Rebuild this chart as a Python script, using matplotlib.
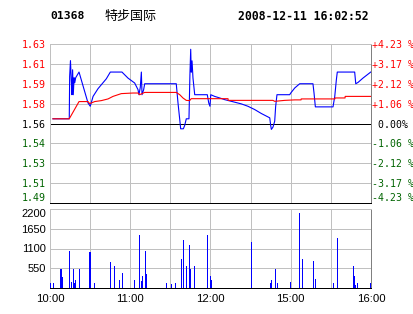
import matplotlib
matplotlib.use("Agg")
import matplotlib.pyplot as plt

# ── data (minutes since 10:00, lunch break removed) ──
BASE = 1.56          # previous close
SPAN = 0.0423        # +/- 4.23 %

price_min = [2.2, 14.4, 14.7, 15.3, 15.9, 16.4, 16.9, 17.4, 18.0, 18.5, 19.2, 21.7,
             28.4, 30.1, 32.2, 35.9, 42.1, 45.1, 53.8, 58.3, 63.3, 65.8, 66.5, 67.5,
             68.3, 68.8, 70.0, 70.8, 94.4, 95.7, 97.0, 97.7, 99.7, 100.7, 101.9, 103.9,
             104.6, 105.2, 105.6, 106.2, 106.9, 108.2, 117.6, 118.7, 119.6, 120.2, 123.1,
             126.9, 130.6, 135.6, 143.0, 148.0, 153.0, 158.0, 164.3, 165.0, 165.5, 166.7,
             168.0, 168.7, 169.7, 179.2, 180.0, 183.0, 186.7, 196.6, 197.4, 198.4, 211.6,
             212.9, 214.1, 214.8, 227.8, 228.6, 230.3, 234.0, 239.8]
price_val = [1.5639, 1.5639, 1.5990, 1.6122, 1.5960, 1.5839, 1.6046, 1.5839, 1.5980, 1.5938, 1.5980, 1.6027,
             1.5771, 1.5743, 1.5825, 1.5889, 1.5971, 1.6027, 1.6027, 1.5977, 1.5936, 1.5881, 1.5839, 1.5900,
             1.6027, 1.5839, 1.5880, 1.5930, 1.5930, 1.5771, 1.5633, 1.5556, 1.5556, 1.5584, 1.5639, 1.5639,
             1.6000, 1.6216, 1.6026, 1.6120, 1.5977, 1.5839, 1.5839, 1.5770, 1.5743, 1.5839, 1.5825,
             1.5812, 1.5798, 1.5784, 1.5763, 1.5743, 1.5716, 1.5683, 1.5647, 1.5584, 1.5551, 1.5570,
             1.5619, 1.5740, 1.5839, 1.5839, 1.5853, 1.5895, 1.5930, 1.5930, 1.5853, 1.5738, 1.5738,
             1.5825, 1.5963, 1.6027, 1.6027, 1.5930, 1.5941, 1.5977, 1.6027]

avg_min = [2.2, 14.4, 21.7, 28.4, 29.7, 33.4, 38.4, 43.4, 47.1, 53.3, 62.0, 65.8, 67.0,
           70.8, 94.4, 97.0, 99.4, 101.9, 104.4, 105.6, 133.1, 133.2, 166.7, 168.0,
           175.5, 183.0, 187.7, 187.8, 213.0, 213.1, 220.6, 220.7, 240.0]
avg_val = [1.5639, 1.5639, 1.5782, 1.5782, 1.5765, 1.5782, 1.5790, 1.5804, 1.5825, 1.5848, 1.5853, 1.5853, 1.5839,
           1.5858, 1.5858, 1.5839, 1.5812, 1.5792, 1.5790, 1.5806, 1.5806, 1.5792, 1.5792, 1.5784,
           1.5792, 1.5796, 1.5796, 1.5804, 1.5804, 1.5812, 1.5812, 1.5825, 1.5825]

vol_min = [0.2, 2.5, 8.4, 9.2, 14.4, 15.9, 17.4, 18.2, 18.9, 21.9, 29.9, 33.4, 45.1, 48.1,
           51.8, 54.1, 63.0, 66.8, 68.3, 69.0, 71.3, 72.0, 87.0, 90.7, 94.0, 98.2, 99.7,
           101.9, 104.2, 104.9, 107.9, 117.6, 119.9, 120.6, 150.5, 164.7, 165.5, 168.5,
           170.0, 179.7, 186.4, 188.6, 196.9, 198.4, 211.8, 214.8, 226.8, 227.5, 228.3,
           229.8, 239.5]
vol_val = [130, 130, 529, 297, 1030, 167, 529, 148, 223, 529, 1003, 139, 724, 613,
           223, 418, 223, 1476, 195, 334, 1030, 390, 139, 111, 139, 808, 1337,
           613, 1198, 529, 613, 1476, 334, 223, 1281, 139, 223, 529,
           139, 167, 2089, 808, 752, 251, 139, 1393, 613, 334, 84,
           139, 139]

left_labels = ["1.49", "1.51", "1.53", "1.54", "1.56", "1.58", "1.59", "1.61", "1.63"]
right_labels = ["-4.23 %", "-3.17 %", "-2.12 %", "-1.06 %", " 0.00%",
                "+1.06 %", "+2.12 %", "+3.17 %", "+4.23 %"]
vol_ticks = [550, 1100, 1650, 2200]
time_ticks = [0, 30, 60, 90, 120, 150, 180, 210, 240]
time_labels = ["10:00", "", "11:00", "", "12:00", "", "15:00", "", "16:00"]

RED = "#FF0000"
GREEN = "#006400"
GRID = "#C0C0C0"
MONO = "DejaVu Sans Mono"
PX = 0.72  # one pixel in points at dpi 100

fig = plt.figure(figsize=(4.14, 3.14), dpi=100)
fig.patch.set_facecolor("white")

ax = fig.add_axes([50 / 414, 1 - 203 / 314, 321 / 414, 159 / 314])
axv = fig.add_axes([50 / 414, 1 - 288 / 314, 321 / 414, 79 / 314])


def style_frame(a):
    for side in ["left", "top"]:
        a.spines[side].set_color(GRID)
    a.spines["right"].set_color("#808080")
    a.spines["bottom"].set_color("black")
    for s in a.spines.values():
        s.set_linewidth(PX)
        s.set_antialiased(False)


# ── price panel ──
ylo, yhi = BASE * (1 - SPAN), BASE * (1 + SPAN)
yticks = [BASE * (1 + SPAN * k / 4) for k in range(-4, 5)]
ax.set_xlim(0, 240)
ax.set_ylim(ylo, yhi)
ax.set_xticks(time_ticks)
ax.set_xticklabels([])
ax.set_yticks(yticks)
ax.set_yticklabels(left_labels, fontfamily=MONO, fontsize=7.2)
lcolors = [GREEN] * 4 + ["black"] + [RED] * 4
for lbl, c in zip(ax.get_yticklabels(), lcolors):
    lbl.set_color(c)
ax.get_yticklabels()[0].set_va("bottom")
ax.tick_params(length=0, pad=3)
ax.grid(True, color=GRID, lw=PX, antialiased=False)
ax.set_axisbelow(True)
ax.axhline(BASE, color="black", lw=PX, antialiased=False, zorder=2)

ax.plot(price_min, price_val, color="blue", lw=0.8, zorder=3)
ax.plot(avg_min, avg_val, color=RED, lw=0.8, zorder=4)
style_frame(ax)

axr = ax.twinx()
axr.set_ylim(ylo, yhi)
axr.set_yticks(yticks)
axr.set_yticklabels(right_labels, fontfamily=MONO, fontsize=7.1)
rcolors = [GREEN] * 4 + ["black"] + [RED] * 4
for lbl, c in zip(axr.get_yticklabels(), rcolors):
    lbl.set_color(c)
axr.get_yticklabels()[0].set_va("bottom")
axr.tick_params(length=0, pad=1)
for s in axr.spines.values():
    s.set_visible(False)

# ── volume panel ──
axv.bar(vol_min, vol_val, width=1.1, color="blue", linewidth=0,
        antialiased=False, zorder=3)
axv.set_xlim(0, 240)
axv.set_ylim(0, 2200)
axv.set_yticks(vol_ticks)
axv.set_yticklabels([str(v) for v in vol_ticks], fontfamily="Liberation Sans", fontsize=8)
axv.get_yticklabels()[-1].set_va("top")
axv.set_xticks(time_ticks)
axv.set_xticklabels(time_labels, fontfamily="Liberation Sans", fontsize=8.2)
axv.tick_params(length=0, pad=3)
axv.tick_params(axis="x", pad=4)
axv.grid(True, color=GRID, lw=PX, antialiased=False)
axv.set_axisbelow(True)
style_frame(axv)

# ── header ──
hy = 1 - 16 / 314
fig.text(50 / 414, hy, "01368", fontfamily=MONO, fontweight="bold", fontsize=8.2,
         va="center", ha="left")
fig.text(105 / 414, hy, "特步国际", fontfamily=["Noto Sans CJK SC", "DejaVu Sans"],
         fontsize=9.4, va="center", ha="left")
fig.text(238 / 414, hy, "2008-12-11 16:02:52", fontfamily=MONO, fontweight="bold",
         fontsize=8.3, va="center", ha="left")

fig.savefig("out.png", dpi=100)
